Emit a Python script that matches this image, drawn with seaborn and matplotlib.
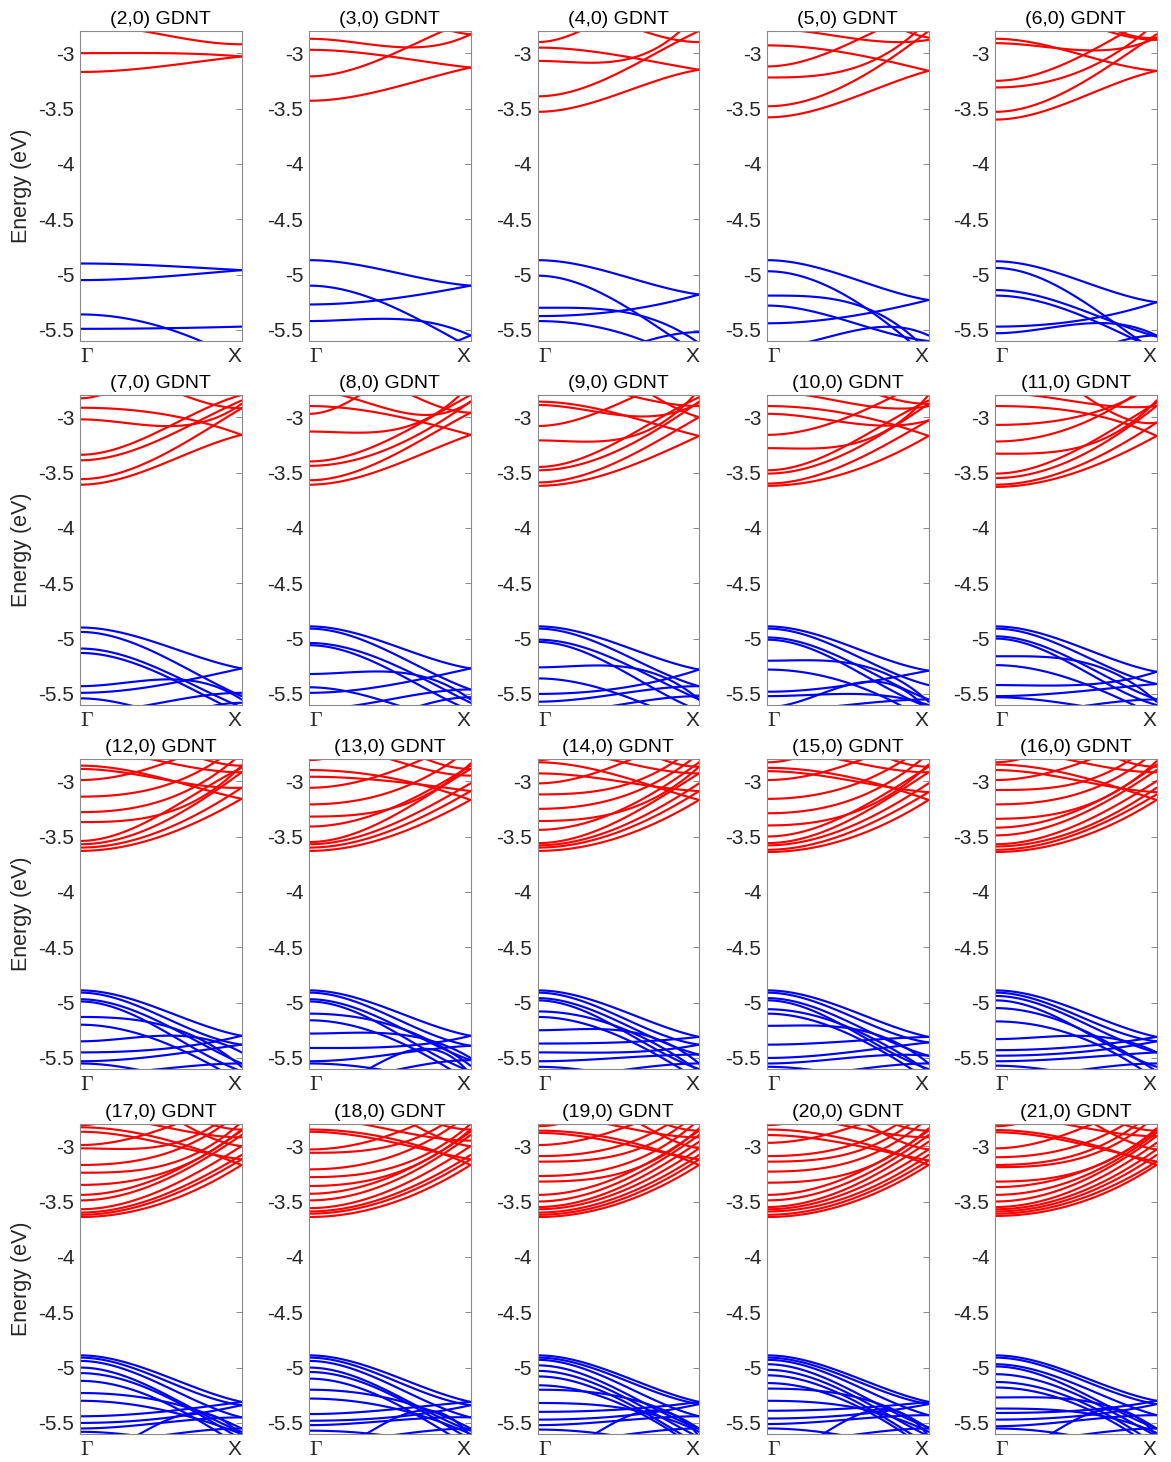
import numpy as np
import pandas as pd
import matplotlib
matplotlib.use("Agg")
import matplotlib.pyplot as plt
import seaborn as sns

sns.set_theme(style="white")
plt.rcParams["font.family"] = ["Liberation Sans", "DejaVu Sans"]
plt.rcParams["mathtext.fontset"] = "cm"
plt.rcParams["axes.unicode_minus"] = False

# ---- data: each band = energies (eV) read at k = Gamma, midway, X ----
tube_n = list(range(2, 22))

c02 = [[-2.74, -2.83, -2.92], [-3.00, -3.00, -3.03], [-3.17, -3.12, -3.03]]
v02 = [[-4.90, -4.92, -4.96], [-5.05, -5.02, -4.96], [-5.36, -5.47, -5.78], [-5.49, -5.485, -5.47]]

c03 = [[-2.87, -2.94, -2.83], [-2.97, -3.03, -3.13], [-3.21, -3.02, -2.70], [-3.43, -3.32, -3.13], [-2.30, -2.55, -2.83]]
v03 = [[-4.87, -4.97, -5.10], [-5.10, -5.28, -5.66], [-5.27, -5.22, -5.10], [-5.42, -5.40, -5.55], [-6.00, -5.85, -5.55]]

c04 = [[-2.90, -2.62, -2.45], [-2.95, -3.02, -3.15], [-3.07, -3.07, -2.62], [-3.39, -3.18, -2.80], [-3.53, -3.37, -3.15], [-2.54, -2.72, -2.90]]
v04 = [[-4.87, -5.00, -5.18], [-5.01, -5.25, -5.72], [-5.30, -5.33, -5.62], [-5.375, -5.33, -5.18], [-5.42, -5.52, -5.85], [-5.84, -5.68, -5.52]]

c05 = [[-2.78, -2.86, -2.88], [-2.93, -3.00, -3.16], [-3.12, -2.92, -2.60], [-3.22, -3.15, -2.70], [-3.48, -3.28, -2.80], [-3.58, -3.42, -3.16], [-2.20, -2.50, -2.86]]
v05 = [[-4.87, -5.02, -5.23], [-4.97, -5.20, -5.75], [-5.19, -5.25, -5.70], [-5.28, -5.42, -5.60], [-5.44, -5.38, -5.23], [-5.66, -5.52, -5.55]]

c06 = [[-2.87, -3.00, -3.16], [-2.91, -2.97, -2.86], [-2.52, -2.70, -2.88], [-3.25, -3.05, -2.65], [-3.31, -3.18, -2.72], [-3.53, -3.30, -2.83], [-3.60, -3.42, -3.16], [-2.30, -2.60, -2.86]]
v06 = [[-4.88, -5.04, -5.25], [-4.94, -5.20, -5.70], [-5.14, -5.30, -5.56], [-5.19, -5.35, -5.68], [-5.47, -5.42, -5.25], [-5.53, -5.45, -5.55], [-5.95, -5.75, -5.55]]

c07 = [[-2.83, -2.50, -2.30], [-2.915, -2.97, -3.16], [-3.02, -3.08, -2.88], [-3.34, -3.12, -2.80], [-3.39, -3.20, -2.85], [-3.56, -3.35, -2.92], [-3.61, -3.43, -3.16], [-2.52, -2.72, -2.92]]
v07 = [[-4.90, -5.05, -5.27], [-4.94, -5.15, -5.52], [-5.09, -5.28, -5.62], [-5.13, -5.32, -5.68], [-5.43, -5.37, -5.55], [-5.49, -5.42, -5.27], [-5.54, -5.68, -5.85], [-5.67, -5.58, -5.49], [-5.92, -5.75, -5.58]]

c08 = [[-2.97, -2.62, -2.40], [-2.76, -2.93, -2.86], [-2.90, -2.98, -3.16], [-3.13, -3.12, -2.70], [-3.40, -3.20, -2.80], [-3.44, -3.28, -2.86], [-3.57, -3.36, -2.96], [-3.61, -3.45, -3.16], [-2.45, -2.70, -2.96]]
v08 = [[-4.89, -5.05, -5.27], [-4.91, -5.12, -5.46], [-5.04, -5.22, -5.58], [-5.06, -5.28, -5.65], [-5.32, -5.30, -5.55], [-5.44, -5.58, -5.80], [-5.49, -5.42, -5.27], [-5.64, -5.55, -5.46], [-5.87, -5.70, -5.53]]

c09 = [[-2.86, -2.97, -3.17], [-2.89, -2.98, -2.87], [-3.08, -2.88, -2.60], [-2.66, -2.78, -2.90], [-3.21, -3.20, -2.75], [-3.45, -3.22, -2.82], [-3.48, -3.30, -2.86], [-3.59, -3.40, -3.00], [-3.62, -3.48, -3.17], [-2.30, -2.60, -3.00]]
v09 = [[-4.89, -5.05, -5.28], [-4.91, -5.12, -5.43], [-5.01, -5.20, -5.55], [-5.03, -5.27, -5.65], [-5.26, -5.25, -5.55], [-5.36, -5.50, -5.80], [-5.50, -5.45, -5.28], [-5.57, -5.50, -5.43], [-5.68, -5.60, -5.52]]

c10 = [[-2.77, -2.87, -2.90], [-2.90, -2.97, -3.17], [-2.97, -3.05, -3.03], [-3.16, -3.00, -2.65], [-3.28, -3.25, -2.80], [-3.48, -3.25, -2.85], [-3.51, -3.32, -2.88], [-3.60, -3.42, -3.03], [-3.62, -3.50, -3.17], [-2.52, -2.70, -2.88]]
v10 = [[-4.89, -5.06, -5.29], [-4.91, -5.12, -5.42], [-4.99, -5.20, -5.55], [-5.01, -5.25, -5.62], [-5.20, -5.22, -5.57], [-5.28, -5.40, -5.75], [-5.48, -5.42, -5.29], [-5.52, -5.50, -5.60], [-5.65, -5.60, -5.55], [-5.62, -5.42, -5.66]]

c11 = [[-2.78, -2.86, -2.90], [-2.90, -2.95, -3.17], [-3.07, -3.00, -2.70], [-3.22, -3.08, -2.65], [-3.33, -3.28, -2.85], [-3.51, -3.30, -2.87], [-3.55, -3.37, -2.90], [-3.61, -3.45, -3.05], [-3.63, -3.50, -3.17], [-2.40, -2.75, -3.05]]
v11 = [[-4.89, -5.06, -5.30], [-4.91, -5.12, -5.41], [-4.98, -5.20, -5.55], [-5.00, -5.25, -5.60], [-5.16, -5.20, -5.57], [-5.24, -5.38, -5.70], [-5.42, -5.42, -5.30], [-5.52, -5.48, -5.41], [-5.53, -5.60, -5.70], [-5.69, -5.62, -5.55]]

c12 = [[-2.86, -2.97, -3.16], [-2.89, -2.98, -3.06], [-2.99, -2.85, -2.55], [-3.14, -3.05, -2.65], [-3.28, -3.18, -2.75], [-3.37, -3.30, -2.86], [-3.54, -3.30, -2.88], [-3.57, -3.38, -2.92], [-3.60, -3.45, -3.06], [-3.63, -3.50, -3.16], [-2.72, -2.82, -2.92], [-2.44, -2.65, -2.86]]
v12 = [[-4.89, -5.06, -5.30], [-4.91, -5.12, -5.38], [-4.97, -5.18, -5.55], [-4.99, -5.24, -5.62], [-5.13, -5.20, -5.58], [-5.20, -5.35, -5.72], [-5.35, -5.30, -5.45], [-5.45, -5.42, -5.30], [-5.53, -5.48, -5.38], [-5.55, -5.65, -5.80], [-5.65, -5.60, -5.55]]

c13 = [[-2.81, -2.55, -2.40], [-2.90, -2.97, -3.17], [-2.96, -3.00, -3.09], [-3.06, -2.92, -2.60], [-3.21, -3.10, -2.70], [-3.32, -3.25, -2.84], [-3.41, -3.25, -2.86], [-3.55, -3.33, -2.89], [-3.57, -3.40, -3.02], [-3.60, -3.45, -3.09], [-3.63, -3.50, -3.17], [-2.65, -2.80, -2.95], [-2.41, -2.65, -2.89]]
v13 = [[-4.89, -5.06, -5.30], [-4.91, -5.12, -5.39], [-4.97, -5.18, -5.52], [-4.99, -5.24, -5.62], [-5.10, -5.20, -5.57], [-5.16, -5.32, -5.72], [-5.28, -5.28, -5.50], [-5.41, -5.40, -5.30], [-5.53, -5.47, -5.39], [-5.55, -5.62, -5.80], [-5.72, -5.62, -5.52], [-5.80, -5.50, -5.65]]

c14 = [[-2.81, -2.55, -2.40], [-2.83, -2.95, -3.17], [-2.93, -3.00, -3.09], [-3.02, -2.85, -2.55], [-3.12, -3.05, -2.65], [-3.25, -3.15, -2.75], [-3.36, -3.28, -2.87], [-3.44, -3.27, -2.83], [-3.56, -3.36, -2.93], [-3.58, -3.42, -3.02], [-3.60, -3.46, -3.09], [-3.63, -3.51, -3.17], [-2.71, -2.82, -2.93], [-2.37, -2.62, -2.87]]
v14 = [[-4.89, -5.06, -5.31], [-4.91, -5.12, -5.38], [-4.96, -5.17, -5.47], [-4.98, -5.23, -5.60], [-5.08, -5.22, -5.62], [-5.13, -5.30, -5.70], [-5.25, -5.25, -5.55], [-5.37, -5.36, -5.31], [-5.45, -5.45, -5.38], [-5.53, -5.50, -5.47], [-5.58, -5.66, -5.80], [-5.68, -5.615, -5.55]]

c15 = [[-2.83, -2.60, -2.40], [-2.88, -2.96, -3.17], [-2.91, -2.99, -3.10], [-2.99, -2.85, -2.55], [-3.16, -3.05, -2.65], [-3.29, -3.18, -2.75], [-3.40, -3.30, -2.85], [-3.50, -3.30, -2.87], [-3.56, -3.36, -2.92], [-3.58, -3.42, -3.02], [-3.62, -3.47, -3.10], [-3.64, -3.52, -3.17], [-2.72, -2.82, -2.92], [-2.37, -2.62, -2.87]]
v15 = [[-4.89, -5.06, -5.31], [-4.91, -5.11, -5.36], [-4.96, -5.17, -5.48], [-4.98, -5.23, -5.60], [-5.06, -5.22, -5.62], [-5.10, -5.28, -5.70], [-5.21, -5.23, -5.55], [-5.38, -5.35, -5.31], [-5.50, -5.45, -5.36], [-5.55, -5.50, -5.48], [-5.58, -5.66, -5.80], [-5.68, -5.615, -5.55]]

c16 = [[-2.83, -2.60, -2.40], [-2.85, -2.95, -3.17], [-2.90, -2.99, -3.10], [-2.99, -2.85, -2.55], [-3.08, -3.02, -2.62], [-3.21, -3.12, -2.72], [-3.34, -3.25, -2.82], [-3.42, -3.27, -2.85], [-3.49, -3.32, -2.90], [-3.57, -3.40, -3.00], [-3.59, -3.45, -3.06], [-3.62, -3.48, -3.12], [-3.64, -3.52, -3.17], [-2.72, -2.82, -2.92], [-2.37, -2.62, -2.87]]
v16 = [[-4.89, -5.06, -5.31], [-4.91, -5.11, -5.35], [-4.94, -5.15, -5.45], [-4.98, -5.22, -5.58], [-5.05, -5.22, -5.62], [-5.17, -5.30, -5.70], [-5.33, -5.30, -5.45], [-5.43, -5.40, -5.31], [-5.48, -5.45, -5.35], [-5.53, -5.50, -5.45], [-5.57, -5.65, -5.80], [-5.68, -5.615, -5.55]]

c17 = [[-2.81, -2.60, -2.40], [-2.83, -2.93, -3.17], [-2.87, -2.97, -3.12], [-2.99, -2.85, -2.55], [-3.02, -3.00, -2.60], [-3.17, -3.08, -2.68], [-3.24, -3.18, -2.78], [-3.35, -3.25, -2.85], [-3.44, -3.28, -2.86], [-3.49, -3.32, -2.90], [-3.57, -3.40, -3.00], [-3.60, -3.45, -3.08], [-3.62, -3.48, -3.12], [-3.64, -3.52, -3.17], [-2.72, -2.82, -2.92], [-2.40, -2.68, -3.00], [-2.35, -2.60, -2.85]]
v17 = [[-4.89, -5.06, -5.31], [-4.91, -5.10, -5.34], [-4.94, -5.15, -5.45], [-5.00, -5.22, -5.58], [-5.05, -5.24, -5.65], [-5.12, -5.30, -5.72], [-5.23, -5.30, -5.55], [-5.30, -5.38, -5.60], [-5.44, -5.40, -5.31], [-5.50, -5.46, -5.34], [-5.55, -5.50, -5.45], [-5.58, -5.65, -5.80], [-5.68, -5.615, -5.55], [-5.80, -5.50, -5.62]]

c18 = [[-2.85, -2.93, -3.17], [-2.87, -2.96, -3.12], [-2.75, -2.85, -2.95], [-3.03, -2.90, -2.55], [-3.06, -3.00, -2.62], [-3.21, -3.10, -2.70], [-3.28, -3.20, -2.80], [-3.36, -3.26, -2.85], [-3.43, -3.28, -2.87], [-3.49, -3.33, -2.90], [-3.56, -3.40, -3.00], [-3.59, -3.45, -3.08], [-3.61, -3.48, -3.12], [-3.64, -3.52, -3.17], [-2.40, -2.68, -3.00], [-2.35, -2.60, -2.85]]
v18 = [[-4.89, -5.06, -5.31], [-4.91, -5.10, -5.34], [-4.94, -5.15, -5.45], [-5.00, -5.22, -5.57], [-5.04, -5.24, -5.65], [-5.10, -5.30, -5.72], [-5.20, -5.28, -5.55], [-5.28, -5.36, -5.60], [-5.42, -5.38, -5.31], [-5.48, -5.45, -5.34], [-5.52, -5.48, -5.45], [-5.57, -5.62, -5.80], [-5.68, -5.615, -5.55], [-5.80, -5.48, -5.62]]

c19 = [[-2.82, -2.60, -2.40], [-2.86, -2.94, -3.17], [-2.88, -2.97, -3.12], [-2.99, -2.85, -2.55], [-3.09, -3.00, -2.60], [-3.14, -3.08, -2.68], [-3.27, -3.18, -2.76], [-3.32, -3.25, -2.84], [-3.44, -3.28, -2.86], [-3.50, -3.33, -2.90], [-3.55, -3.38, -2.96], [-3.57, -3.42, -3.02], [-3.60, -3.46, -3.08], [-3.62, -3.49, -3.12], [-3.64, -3.52, -3.17], [-2.72, -2.82, -2.92], [-2.40, -2.68, -3.02], [-2.34, -2.60, -2.86]]
v19 = [[-4.89, -5.06, -5.31], [-4.91, -5.09, -5.33], [-4.93, -5.14, -5.44], [-4.98, -5.20, -5.55], [-5.03, -5.24, -5.63], [-5.08, -5.28, -5.70], [-5.16, -5.32, -5.75], [-5.20, -5.26, -5.55], [-5.32, -5.36, -5.58], [-5.40, -5.38, -5.31], [-5.47, -5.44, -5.33], [-5.52, -5.48, -5.44], [-5.56, -5.62, -5.80], [-5.68, -5.615, -5.55], [-5.80, -5.48, -5.62]]

c20 = [[-2.81, -2.60, -2.40], [-2.85, -2.94, -3.17], [-2.90, -2.98, -3.13], [-2.97, -2.84, -2.55], [-3.09, -3.00, -2.60], [-3.14, -3.07, -2.66], [-3.23, -3.15, -2.74], [-3.33, -3.25, -2.84], [-3.44, -3.28, -2.86], [-3.49, -3.33, -2.90], [-3.55, -3.38, -2.96], [-3.57, -3.42, -3.03], [-3.59, -3.46, -3.08], [-3.62, -3.49, -3.13], [-3.64, -3.52, -3.17], [-2.72, -2.82, -2.92], [-2.42, -2.70, -3.03], [-2.34, -2.60, -2.86]]
v20 = [[-4.89, -5.06, -5.31], [-4.91, -5.09, -5.33], [-4.93, -5.13, -5.43], [-4.97, -5.19, -5.54], [-5.02, -5.23, -5.62], [-5.07, -5.27, -5.70], [-5.14, -5.31, -5.75], [-5.19, -5.25, -5.55], [-5.30, -5.35, -5.58], [-5.39, -5.37, -5.31], [-5.46, -5.43, -5.33], [-5.51, -5.47, -5.43], [-5.55, -5.62, -5.80], [-5.68, -5.615, -5.55], [-5.80, -5.47, -5.62]]

c21 = [[-2.82, -2.60, -2.40], [-2.855, -2.95, -3.17], [-2.875, -2.97, -3.14], [-3.02, -2.86, -2.55], [-3.10, -3.00, -2.60], [-3.17, -3.08, -2.66], [-3.19, -3.12, -2.72], [-3.32, -3.24, -2.84], [-3.37, -3.25, -2.86], [-3.44, -3.30, -2.88], [-3.50, -3.34, -2.91], [-3.55, -3.39, -2.97], [-3.57, -3.43, -3.03], [-3.59, -3.46, -3.08], [-3.61, -3.49, -3.14], [-3.63, -3.52, -3.17], [-2.73, -2.82, -2.91], [-2.42, -2.70, -3.03], [-2.34, -2.60, -2.86]]
v21 = [[-4.89, -5.06, -5.30], [-4.91, -5.09, -5.33], [-4.97, -5.15, -5.43], [-4.99, -5.20, -5.55], [-5.06, -5.24, -5.62], [-5.13, -5.29, -5.70], [-5.18, -5.33, -5.75], [-5.27, -5.29, -5.55], [-5.37, -5.40, -5.59], [-5.41, -5.39, -5.30], [-5.47, -5.44, -5.33], [-5.53, -5.48, -5.43], [-5.55, -5.62, -5.80], [-5.68, -5.615, -5.55], [-5.80, -5.47, -5.62]]

conduction = [c02, c03, c04, c05, c06, c07, c08, c09, c10, c11,
              c12, c13, c14, c15, c16, c17, c18, c19, c20, c21]
valence = [v02, v03, v04, v05, v06, v07, v08, v09, v10, v11,
           v12, v13, v14, v15, v16, v17, v18, v19, v20, v21]

y_ticks = [-5.5, -5.0, -4.5, -4.0, -3.5, -3.0]
k_labels = [r"$\Gamma$", "X"]

K = np.linspace(0.0, 1.0, 121)


def band_frame(bands):
    """Smooth band through the read energies, flat at Gamma (basis 1, k^2, k^3)."""
    rows = []
    for b, vals in enumerate(bands):
        vals = np.asarray(vals, float)
        n = len(vals)
        kn = np.linspace(0.0, 1.0, n)
        powers = np.array([0] + list(range(2, n + 1)))
        M = kn[:, None] ** powers[None, :]
        coef = np.linalg.solve(M, vals)
        E = (K[:, None] ** powers[None, :]) @ coef
        rows.append(pd.DataFrame({"k": K, "E": E, "band": b}))
    return pd.concat(rows, ignore_index=True)


W, H = 1171, 1462
fig = plt.figure(figsize=(W / 100, H / 100), dpi=100)

col_left = [80, 309, 537.5, 767, 995]
row_top = [31, 395, 759, 1124]
ax_w, ax_h = 161.5, 310

frame_col = "#8a8a8a"
text_col = "#262626"

for i, n in enumerate(tube_n):
    r, c = divmod(i, 5)
    ax = fig.add_axes([col_left[c] / W, 1 - (row_top[r] + ax_h) / H, ax_w / W, ax_h / H])
    dfc = band_frame(conduction[i])
    dfv = band_frame(valence[i])
    sns.lineplot(data=dfc, x="k", y="E", units="band", estimator=None, color="#ff0000",
                 linewidth=1.55, ax=ax, legend=False, sort=False)
    sns.lineplot(data=dfv, x="k", y="E", units="band", estimator=None, color="#0000ff",
                 linewidth=1.55, ax=ax, legend=False, sort=False)
    ax.set_xlim(0, 1)
    ax.set_ylim(-5.6, -2.8)
    ax.set_yticks(y_ticks)
    ax.set_yticklabels(["%g" % t for t in y_ticks])
    ax.set_xticks([0, 1])
    ax.set_xticklabels(k_labels)
    lbls = ax.get_xticklabels()
    lbls[0].set_ha("left")
    lbls[1].set_ha("right")
    lbls[0].set_fontsize(16)
    ax.tick_params(axis="both", direction="in", length=4, width=0.7, color=frame_col,
                   labelsize=15, labelcolor=text_col, right=True, top=False)
    ax.tick_params(axis="y", pad=4)
    ax.tick_params(axis="x", pad=4)
    for s in ax.spines.values():
        s.set_visible(True)
        s.set_color(frame_col)
        s.set_linewidth(0.8)
    ax.set_xlabel("")
    ax.set_title(f"({n},0) GDNT", fontsize=14, color="black", pad=5)
    if c == 0:
        ax.set_ylabel("Energy (eV)", fontsize=15.5, color=text_col)
        ax.yaxis.set_label_coords(-0.30, 0.5)
    else:
        ax.set_ylabel("")

fig.savefig("out.png", dpi=100)
